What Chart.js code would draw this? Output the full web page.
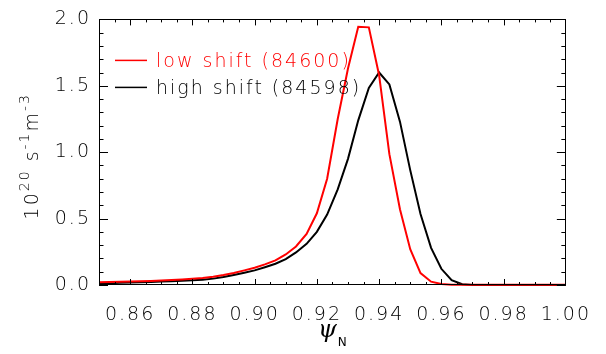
<!DOCTYPE html>
<html><head><meta charset="utf-8">
<script src="https://cdn.jsdelivr.net/npm/chart.js@4/dist/chart.umd.min.js"></script>
<style>html,body{margin:0;padding:0;background:#fff;overflow:hidden}</style>
</head><body>
<canvas id="c" width="606" height="354"></canvas>
<script>
// ---- data ----
const psiN = [0.8500,0.8533,0.8567,0.8600,0.8633,0.8667,0.8700,0.8733,0.8767,0.8800,
  0.8833,0.8867,0.8900,0.8933,0.8967,0.9000,0.9033,0.9067,0.9100,0.9133,
  0.9167,0.9200,0.9233,0.9267,0.9300,0.9333,0.9367,0.9400,0.9433,0.9467,
  0.9500,0.9533,0.9567,0.9600,0.9633,0.9667,0.9700,0.9733,0.9767,0.9800,
  0.9833,0.9867,0.9900,0.9933,0.9967,1.0000];
const lowShift = [0.020,0.022,0.024,0.026,0.028,0.031,0.034,0.038,0.042,0.047,
  0.053,0.062,0.075,0.090,0.110,0.130,0.155,0.185,0.230,0.290,
  0.385,0.540,0.800,1.250,1.630,1.945,1.940,1.580,0.985,0.570,
  0.270,0.090,0.025,0.007,0.002,0.002,0.002,0.002,0.002,0.002,
  0.002,0.002,0.002,0.002,0.002,0.002];
const highShift = [0.012,0.014,0.016,0.018,0.020,0.023,0.026,0.029,0.032,0.036,
  0.040,0.048,0.060,0.075,0.092,0.110,0.134,0.160,0.195,0.245,
  0.310,0.400,0.530,0.720,0.950,1.240,1.484,1.600,1.510,1.230,
  0.865,0.535,0.280,0.122,0.036,0.006,0.000,0.000,0.000,0.000,
  0.000,0.000,0.000,0.000,0.000,0.000];
const seriesLabels = ['low shift (84600)', 'high shift (84598)'];
const xTicks = [0.86,0.88,0.90,0.92,0.94,0.96,0.98,1.00];
const xMinorTicks = [0.855,0.86,0.865,0.87,0.875,0.88,0.885,0.89,0.895,0.90,0.905,0.91,0.915,0.92,
  0.925,0.93,0.935,0.94,0.945,0.95,0.955,0.96,0.965,0.97,0.975,0.98,0.985,0.99,0.995];
const yTicks = [0.0,0.5,1.0,1.5,2.0];
const yMinorTicks = [0.1,0.2,0.3,0.4,0.6,0.7,0.8,0.9,1.1,1.2,1.3,1.4,1.6,1.7,1.8,1.9];

const FONT = '"DejaVu Sans", "Liberation Sans", sans-serif';
const SPACING = '2px';

const idlPlugin = {
  id: 'idl',
  beforeInit(chart) { chart.ctx.letterSpacing = SPACING; },
  beforeDraw(chart) { chart.ctx.letterSpacing = SPACING; },
  afterDraw(chart) {
    const ctx = chart.ctx, a = chart.chartArea, xs = chart.scales.x, ys = chart.scales.y;
    ctx.save();
    ctx.letterSpacing = SPACING;
    ctx.strokeStyle = '#000';
    ctx.lineWidth = 1;
    // frame
    ctx.strokeRect(Math.round(a.left) + 0.5, Math.round(a.top) + 0.5,
      Math.round(a.right - a.left) - 1, Math.round(a.bottom - a.top) - 1);
    ctx.beginPath();
    const isMajor = (arr, v) => arr.some(t => Math.abs(t - v) < 1e-9);
    // x ticks (bottom & top, pointing inward)
    xMinorTicks.forEach(v => {
      const p = Math.round(xs.getPixelForValue(v)) + 0.5;
      const len = isMajor(xTicks, v) ? 6 : 3;
      ctx.moveTo(p, a.bottom); ctx.lineTo(p, a.bottom - len);
      ctx.moveTo(p, a.top); ctx.lineTo(p, a.top + len);
    });
    // y ticks (left & right, pointing inward)
    yTicks.concat(yMinorTicks).forEach(v => {
      const p = Math.round(ys.getPixelForValue(v)) + 0.5;
      const len = isMajor(yTicks, v) ? 9 : 4.5;
      ctx.moveTo(a.left, p); ctx.lineTo(a.left + len, p);
      ctx.moveTo(a.right, p); ctx.lineTo(a.right - len, p);
    });
    ctx.stroke();

    // legend
    ctx.font = '200 19px ' + FONT;
    ctx.textAlign = 'left';
    ctx.textBaseline = 'alphabetic';
    chart.data.datasets.forEach((ds, i) => {
      const ly = a.top + 41 + i * 27;
      ctx.strokeStyle = ds.borderColor;
      ctx.lineWidth = 1.5;
      ctx.beginPath();
      ctx.moveTo(a.left + 16, ly); ctx.lineTo(a.left + 48, ly);
      ctx.stroke();
      ctx.fillStyle = ds.borderColor;
      ctx.fillText(ds.label, a.left + 57, ly + 7);
    });

    // y axis title with superscripts
    ctx.fillStyle = '#000';
    ctx.save();
    ctx.translate(38, (a.top + a.bottom) / 2 + 4);
    ctx.rotate(-Math.PI / 2);
    const parts = [['10', 0], ['20', 1], [' s', 0], ['-1', 1], ['m', 0], ['-3', 1]];
    const measure = parts.map(([t, s]) => {
      ctx.font = '200 ' + (s ? 14 : 19) + 'px ' + FONT;
      return ctx.measureText(t).width;
    });
    const total = measure.reduce((p, c) => p + c, 0);
    let cx = -total / 2;
    parts.forEach(([t, s], i) => {
      ctx.font = '200 ' + (s ? 14 : 19) + 'px ' + FONT;
      ctx.fillText(t, cx, s ? -9 : 0);
      cx += measure[i];
    });
    ctx.restore();

    // x axis title: psi_N
    ctx.letterSpacing = '0px';
    const xc = (a.left + a.right) / 2;
    ctx.font = 'italic 24px "DejaVu Serif", "Liberation Serif", serif';
    ctx.textAlign = 'left';
    const pw = ctx.measureText('ψ').width;
    ctx.fillText('ψ', xc - pw / 2 - 5, 337);
    ctx.font = '12px ' + FONT;
    ctx.fillText('N', xc + pw / 2 - 4, 346);
    ctx.restore();
  }
};

new Chart(document.getElementById('c'), {
  type: 'line',
  data: {
    datasets: [
      { label: seriesLabels[0], data: psiN.map((x, i) => ({ x, y: lowShift[i] })),
        borderColor: '#ff0000', borderWidth: 2, pointRadius: 0, tension: 0, fill: false, clip: 3 },
      { label: seriesLabels[1], data: psiN.map((x, i) => ({ x, y: highShift[i] })),
        borderColor: '#000000', borderWidth: 2, pointRadius: 0, tension: 0, fill: false, clip: 3 }
    ]
  },
  options: {
    responsive: false,
    animation: false,
    devicePixelRatio: 1,
    layout: { padding: { top: 11, right: 34, left: 0, bottom: 0 } },
    plugins: { legend: { display: false }, tooltip: { enabled: false } },
    scales: {
      x: {
        type: 'linear', min: 0.85, max: 1.0,
        afterBuildTicks: s => { s.ticks = xTicks.map(v => ({ value: v })); },
        afterFit: s => { s.height = 69; },
        grid: { display: false, drawTicks: false },
        border: { display: false },
        ticks: { callback: v => Number(v).toFixed(2), color: '#000', padding: 19,
          maxRotation: 0, autoSkip: false, font: { family: FONT, size: 19, weight: 200 } }
      },
      y: {
        type: 'linear', min: 0, max: 2.0,
        afterBuildTicks: s => { s.ticks = yTicks.map(v => ({ value: v })); },
        afterFit: s => { s.width = 99; },
        grid: { display: false, drawTicks: false },
        border: { display: false },
        ticks: { callback: v => Number(v).toFixed(1), color: '#000', padding: 8,
          autoSkip: false, font: { family: FONT, size: 19, weight: 200 } }
      }
    }
  },
  plugins: [idlPlugin]
});
</script>
</body></html>
